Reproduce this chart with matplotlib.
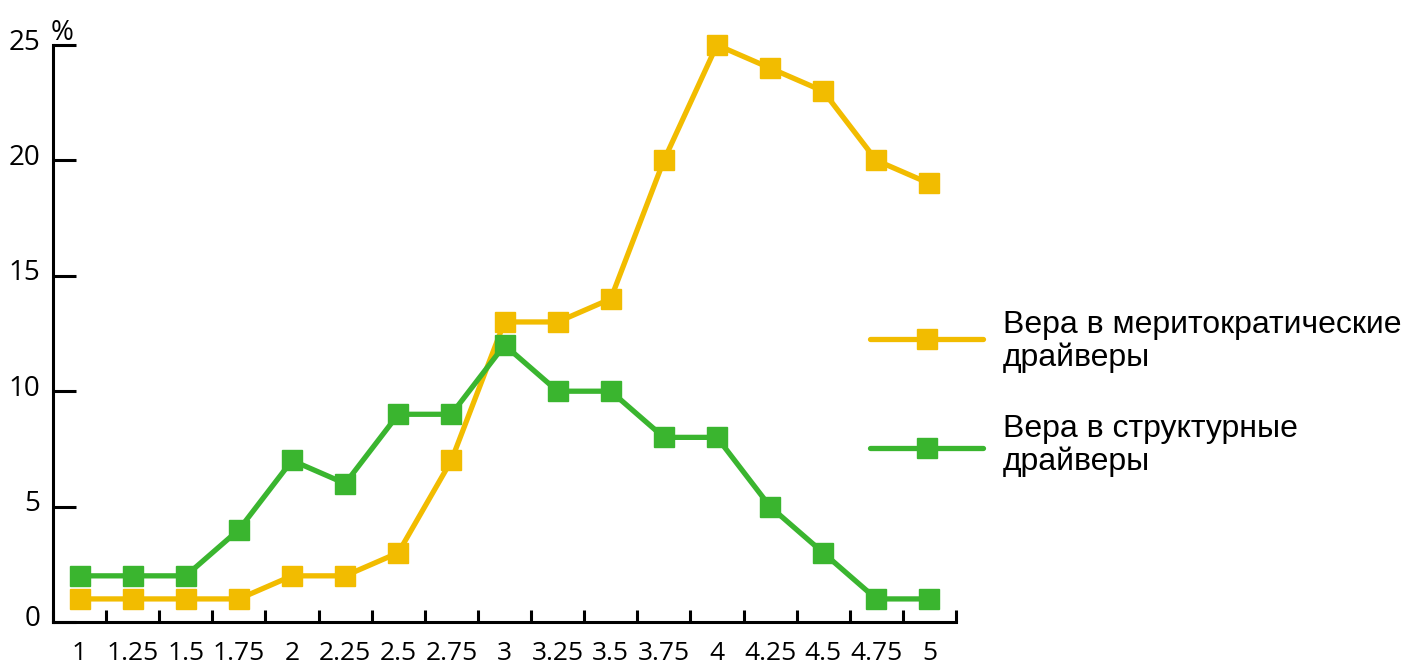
import numpy as np
import matplotlib
matplotlib.use("Agg")
import matplotlib.pyplot as plt
import matplotlib.transforms as mtransforms
from matplotlib.lines import Line2D

categories = ["1", "1.25", "1.5", "1.75", "2", "2.25", "2.5", "2.75", "3",
              "3.25", "3.5", "3.75", "4", "4.25", "4.5", "4.75", "5"]
merit = [1, 1, 1, 1, 2, 2, 3, 7, 13, 13, 14, 20, 25, 24, 23, 20, 19]
struct = [2, 2, 2, 4, 7, 6, 9, 9, 12, 10, 10, 8, 8, 5, 3, 1, 1]
yticks = [0, 5, 10, 15, 20, 25]
legend_labels = [["Вера в меритократические", "драйверы"],
                 ["Вера в структурные", "драйверы"]]

yellow = "#F2BC00"
green = "#3AB52F"
W, H = 1406, 661

fig = plt.figure(figsize=(W / 100, H / 100), dpi=100)
ax = fig.add_axes([53 / W, 1 - 622 / H, (956 - 53) / W, (622 - 45) / H])

x = np.arange(len(categories)) + 0.5
ax.plot(x, merit, color=yellow, lw=3.8, marker="s", ms=14, mec=yellow, clip_on=False)
ax.plot(x, struct, color=green, lw=3.8, marker="s", ms=14, mec=green, clip_on=False)

ax.set_xlim(0, len(categories))
ax.set_ylim(0, 25)
for s in ["top", "right"]:
    ax.spines[s].set_visible(False)
for s in ["left", "bottom"]:
    ax.spines[s].set_linewidth(2.2)

ax.set_xticks(np.arange(len(categories) + 1))
ax.set_xticklabels([])
ax.tick_params(axis="x", which="major", direction="in", length=9, width=2.2)
ax.set_xticks(x, minor=True)
ax.set_xticklabels(categories, minor=True, fontsize=19, family="Open Sans")
ax.tick_params(axis="x", which="minor", length=0, pad=14)

ax.set_yticks(yticks)
ax.set_yticklabels([str(v) for v in yticks], fontsize=20, family="Open Sans")
ax.tick_params(axis="y", direction="in", length=16.5, width=2.2, pad=9)
shift = mtransforms.ScaledTranslation(0, 6 / 100, fig.dpi_scale_trans)
for lab in ax.get_yticklabels():
    lab.set_transform(lab.get_transform() + shift)

fig.text(51 / W, 1 - 40 / H, "%", fontsize=20, family="Open Sans",
         va="baseline", ha="left")

# legend drawn by hand
for color, ly, lines, base in [(yellow, 339, legend_labels[0], (333, 366)),
                               (green, 448, legend_labels[1], (437, 470))]:
    fig.add_artist(Line2D([870 / W, 983 / W], [1 - ly / H, 1 - ly / H],
                          transform=fig.transFigure, color=color, lw=3.8,
                          solid_capstyle="round"))
    fig.add_artist(Line2D([927 / W], [1 - ly / H], transform=fig.transFigure,
                          marker="s", ms=14, color=color, mec=color))
    for txt, b in zip(lines, base):
        fig.text(1003 / W, 1 - b / H, txt, fontsize=23, family="Liberation Sans",
                 va="baseline", ha="left")

fig.savefig("out.png", dpi=100)
